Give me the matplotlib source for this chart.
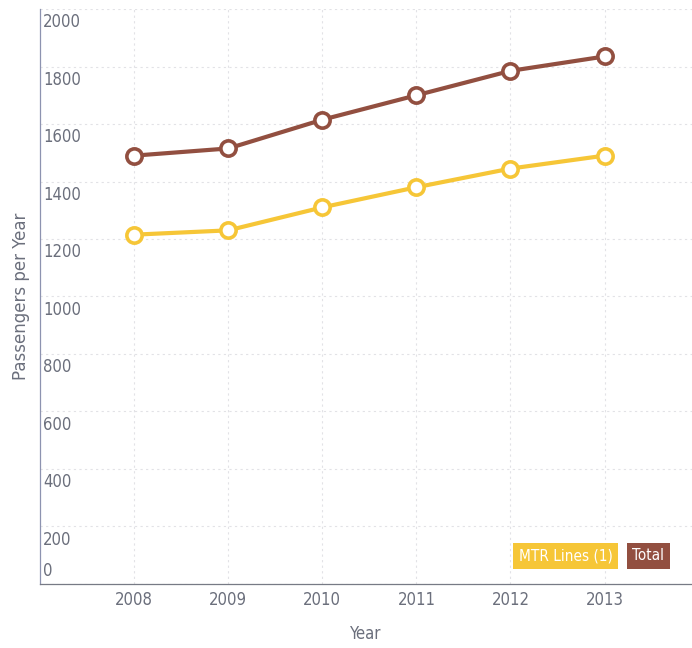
import matplotlib.pyplot as plt

years = [2008, 2009, 2010, 2011, 2012, 2013]
total = [1490, 1515, 1615, 1700, 1785, 1835]
mtr_lines = [1215, 1230, 1310, 1380, 1445, 1490]
y_ticks = [0, 200, 400, 600, 800, 1000, 1200, 1400, 1600, 1800, 2000]

brown = "#924f40"
yellow = "#f6c637"
grey = "#6b6f7c"

plt.rcParams["font.family"] = ["DejaVu Sans"]
plt.rcParams["font.stretch"] = "condensed"

fig = plt.figure(figsize=(6.92, 6.48), dpi=100)
ax = fig.add_axes([0.058, 0.099, 0.942, 0.887])

for vals, col in [(mtr_lines, yellow), (total, brown)]:
    ax.plot(years, vals, color=col, lw=3.0, marker="o", ms=11,
            mfc="white", mec=col, mew=2.6, zorder=3, solid_capstyle="round")

ax.set_xlim(2007, 2013.93)
ax.set_ylim(0, 2000)
ax.set_xticks(years)
ax.set_yticks(y_ticks)
ax.set_yticklabels([])
ax.tick_params(axis="y", length=0)
ax.tick_params(axis="x", length=0, pad=5, labelsize=12, labelcolor=grey)
ax.grid(True, color="#e2e2e6", lw=0.8, ls=(0, (2, 3)))
ax.set_axisbelow(True)

for s in ["top", "right"]:
    ax.spines[s].set_visible(False)
ax.spines["left"].set_color("#8d93b0")
ax.spines["bottom"].set_color("#777a85")
ax.spines["left"].set_linewidth(0.9)
ax.spines["bottom"].set_linewidth(0.9)

# value labels sit just under each gridline, inside the plot
for v in y_ticks:
    if v == 0:
        ax.annotate(str(v), xy=(0, v), xycoords=("axes fraction", "data"),
                    xytext=(2, 3), textcoords="offset points",
                    ha="left", va="bottom", fontsize=12, color=grey)
    else:
        ax.annotate(str(v), xy=(0, v), xycoords=("axes fraction", "data"),
                    xytext=(2, -3), textcoords="offset points",
                    ha="left", va="top", fontsize=12, color=grey)

ax.set_ylabel("Passengers per Year", fontsize=12, color=grey,
              fontstretch="normal", labelpad=4)
ax.set_xlabel("Year", fontsize=12, color=grey, labelpad=12)

fig.text(0.885, 0.142, "MTR Lines (1)", color="white", fontsize=11,
         ha="right", va="center",
         bbox=dict(boxstyle="square,pad=0.35", fc=yellow, ec="none"))
fig.text(0.914, 0.142, "Total", color="white", fontsize=11,
         ha="left", va="center",
         bbox=dict(boxstyle="square,pad=0.35", fc=brown, ec="none"))

fig.savefig("out.png", dpi=100)
